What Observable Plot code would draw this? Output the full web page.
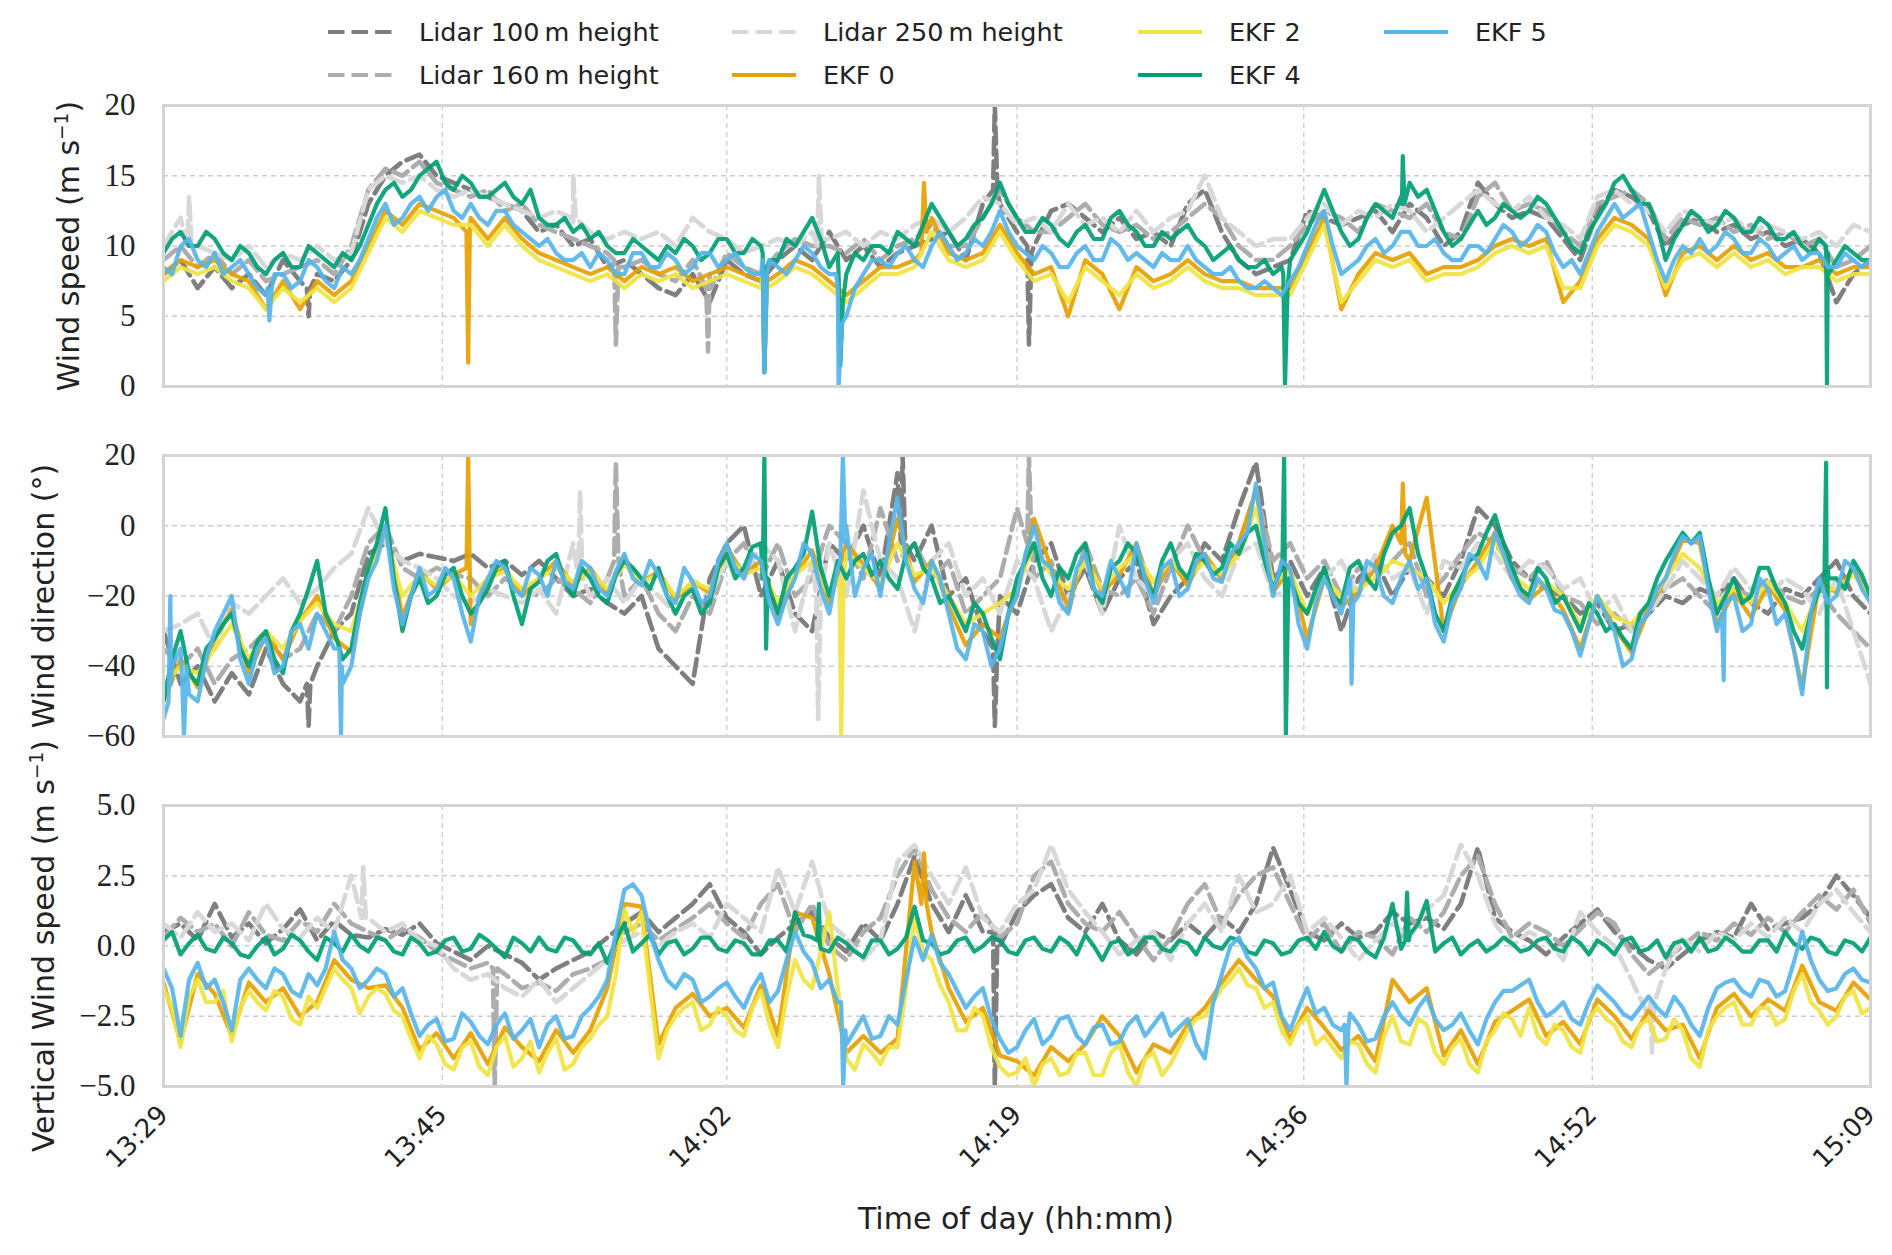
<!DOCTYPE html>
<html><head><meta charset="utf-8">
<script src="https://cdn.jsdelivr.net/npm/d3@7"></script>
<script src="https://cdn.jsdelivr.net/npm/@observablehq/plot@0.6"></script>
<style>
body{margin:0;background:#fff;}
#root{position:relative;width:1892px;height:1255px;overflow:hidden;font-family:"DejaVu Sans",sans-serif;color:#222;}
.panel{position:absolute;left:0;}
.leg{position:absolute;display:flex;align-items:center;height:40px;font-size:25.5px;white-space:nowrap;}
.leg span{margin-left:27px;}
.ylab{position:absolute;font-size:30px;white-space:nowrap;transform:translate(-50%,-50%) rotate(-90deg);}
.xlab{position:absolute;font-size:30px;white-space:nowrap;transform:translate(-50%,-50%);}
sup{font-size:0.62em;line-height:0;}
</style></head>
<body><div id="root"></div>
<script>
// ---------- shared axis data ----------
const timeMinutes = d3.range(0, 101);      // minutes after 13:29, one sample per minute
const timeHalfMinutes = d3.range(0.5, 100); // in-between samples (minute + 0.5)
const tickMinutes = [0, 16.33, 33, 50, 66.8, 83.7, 100];
const tickLabels = ["13:29", "13:45", "14:02", "14:19", "14:36", "14:52", "15:09"];
const seriesNames = ["Lidar 100\u2009m height", "Lidar 160\u2009m height", "Lidar 250\u2009m height", "EKF 0", "EKF 2", "EKF 4", "EKF 5"];
const speedTicks = [0, 5, 10, 15, 20];
const dirTicks = [-60, -40, -20, 0, 20];
const vertTicks = [-5, -2.5, 0, 2.5, 5];

// ---------- wind speed (m/s) ----------
const speedLidar100 = [8,9,7,8.5,7,8,6.5,9,7.5,8, 7.5,9,13,15,16,16.5,15,14.5,14,13.5, 13,12.5,11,11.5,10,10.5,8.5,9,8,7, 6.5,8,6,9,8,7.5,9,10,9,11, 9,10,8.5,9.5,10,10.5,11,9,13,13, 11,10,12.5,13,12,11,12,10.5,11,10, 13,14,11,9,8,8.5,9,12.5,12,11.5, 12,12.5,11,13,12,10,11,14.5,13,12, 12.5,12,10.5,9,12.5,14,13.5,12.5,10,11.5, 12,11,11.5,10.5,11,10,10.5,9.5,6,8, 9];
const speedLidar160 = [9,10,8.5,9.5,8,9,7.5,8,8.5,9, 8,10,14,15.5,15,16,14.5,14,13.5,14, 12.5,13,11.5,11,10.5,10,9.5,8.5,9,8, 7.5,9,8,9.5,8.5,8,9.5,10.5,10,10, 9.5,10.5,9,10,10.5,11.5,10,10,12,14, 12,11,11,12,13,11.5,11,11.5,10.5,11, 12,13,12,10,9,9,10,11.5,12.5,12, 11,13,12.5,12,13,11,10.5,13.5,14.5,12.5, 13,12.5,11,10,13,13.5,14,13,10.5,12, 11.5,12,11,11.5,10.5,11,10,10.5,8.5,9, 10];
const speedLidar250 = [10,12,10,9.5,9,10,8.5,9.5,9,10, 9,9.5,14,15,14.5,15,14,13.5,14,13.5, 13,12.5,12,12.5,11.5,11,10.5,11,10.5,11, 10,12,11,10.5,9.5,10,10.5,10,11,10.5, 11,10,11,10.5,11.5,12,11,12,13.5,13, 11.5,12,11,13,11.5,12,11,12.5,11,12, 12.5,15,12,11,10,10.5,10.5,12,13,11.5, 12.5,12,13,12.5,11,12,13,14,13,12.5, 13.5,12,11.5,10.5,13.5,14,13,12.5,11,12.5, 12,11.5,12,11,11.5,11,10.5,11,10,11.5, 11];
const speedEKF0 = [8,9,8.5,9,8,7.5,5.5,7.5,5.5,7.5, 6.5,7.5,10,12.5,11.5,13,12.5,12,12,10.5, 12,10.5,9.5,9,8.5,8,8.5,7.5,8.5,8, 8.5,7.5,8,8.5,8,7.5,8,9,8.5,7.5, 6.5,7.5,8.5,8.5,9,12,9.5,9,9.5,11.5, 9.5,8,8.5,5,9,8,5.5,8.5,7.5,8, 9,8,7.5,7.5,7,7,7,9.5,12,5.5, 8,9.5,9,9.5,8,8.5,8.5,9,10,10.5, 10,10.5,6,7.5,10.5,12,11.5,10.5,6.5,9.5, 10,9,10,9,9.5,8.5,8.5,9,8,8.5, 8.5];
const speedEKF2 = [7.5,8.5,8,8.5,7.5,7,5.5,7,6,7, 6,7,9.5,12,11,12.5,12,11.5,11.5,10, 11.5,10,9,8.5,8,7.5,8,7,8,7.5, 8,7,7.5,8,7.5,7,7.5,8.5,8,7, 6,7,8,8,8.5,11,9,8.5,9,11, 9,7.5,8,6,8.5,7.5,6.5,8,7,7.5, 8.5,7.5,7,7,6.5,6.5,6.5,9,11.5,6, 7.5,9,8.5,9,7.5,8,8,8.5,9.5,10, 9.5,10,7,7,10,11.5,11,10,7,9, 9.5,8.5,9.5,8.5,9,8,8.5,8.5,7.5,8, 8];
const speedEKF4 = [9.5,11,10,10.5,9,9.5,8,9.5,8.5,9.5, 8.5,9,11.5,14,13.5,15,16,14,14.5,13.5, 14.5,13,12,11.5,11,10.5,10,9.5,10,9, 9.5,10,9.5,10.5,9.5,10,9,10,12,8.5, 8,9,10,11,10,13,11,10.5,12,14.5, 12,11,11.5,10,11.5,10.5,12.5,11,10,10.5, 11.5,10,9.5,9,8.5,8,9,11,14,11, 10.5,13,12,14.5,14,11,10.5,12.5,12,12.5, 12.5,13,11,9.5,12,14.5,14,13,9,11.5, 12,11.5,12,11,11.5,10.5,10,10.5,9,9.5, 9];
const speedEKF4Half = [10.5,10,11,9.5,10,8.5,9,8.5,10,9, 9.5,10,13,14.5,14,15.5,14.5,15,13.5,14, 13.5,14,11.5,12,11.5,11,9.5,10.5,9.5,10, 10.5,9,10.5,9.5,10.5,9,10.5,11,10.5,9.5, 9.5,10,9.5,10.5,11.5,12,10,11.5,13,13, 11,12,10.5,11,10.5,12,11.5,10,11,11, 10.5,9,10,8.5,9,8.5,10,12.5,12.5,10, 12,12.5,13.5,13.5,12.5,10,11.5,11.5,13,12, 13.5,12,10,11,13,15,13,11.5,10.5,12.5, 11,12.5,11,12,10.5,11,9.5,9.5,10,9];
const speedEKF5 = [8.5,10,9,9.5,8.5,8,6.5,8,7.5,8.5, 7,8,10.5,13,12,13.5,13.5,12.5,13,11.5, 12.5,11,10,9.5,9,8.5,9,8,9.5,8.5, 9,8.5,9.5,9,8.5,8,8.5,9,9.5,8, 5,8,9,9.5,9,10,10,9.5,10,12.5, 10,9,9.5,8.5,10,9,10,9.5,8.5,9, 10,8.5,8,7.5,7,7,7.5,10,12.5,8, 9,10.5,10,11,10,9.5,9,10,10.5,11, 10.5,11,8.5,8,11,13,12.5,11,7.5,10, 10.5,10,10.5,9.5,10,9.5,9,9.5,8.5,9, 9];
const speedEKF5Half = [8,10.5,8.5,8,9,7,8,7,9,7.5, 8.5,9,12,11.5,13,12.5,14,12,12,12.5, 11.5,10.5,10.5,9,9.5,9.5,8,9.5,8.5,9.5, 8,9.5,8.5,9.5,8,9,8,10,8.5,7, 7,9,8.5,10,8.5,11,9,10.5,11,11, 9.5,10,8.5,9.5,9,10.5,9,9,9.5,9, 9,8,8.5,7,7.5,6.5,8.5,11.5,10,8.5, 10,9.5,11,10,10.5,9,10,9.5,11.5,10, 11.5,9.5,9,9.5,12,12,13,9,9,9.5, 9.5,11,9.5,10.5,9,10,9.5,8.5,9.5,8.5];
// brief excursions: [minute, value]
const speedLidar100Spikes = [[8.4,7],[8.5,5],[8.6,7],[48.6,14],[48.7,20],[48.85,14],[50.6,10],[50.7,3],[50.85,9.5]];
const speedLidar160Spikes = [[26.4,9],[26.5,3],[26.65,8.5],[31.8,7],[31.9,2.5],[32.05,7]];
const speedLidar250Spikes = [[1.4,10],[1.5,13.5],[1.65,10],[23.9,12],[24,15],[24.15,12],[38.3,10],[38.4,15],[38.55,10.5]];
const speedEKF0Spikes = [[17.75,11],[17.85,1.7],[17.95,11.5],[35.1,8.5],[35.2,1.2],[35.35,7.5],[44.4,9.5],[44.55,14.5],[44.7,11]];
const speedEKF2Spikes = [[35.1,8],[35.2,1.2],[35.35,7]];
const speedEKF4Spikes = [[35.1,9.5],[35.2,1],[35.35,8.5],[39.55,8],[39.65,1.5],[39.8,6],[65.6,8],[65.7,0],[65.85,7],[72.55,13],[72.6,16.4],[72.7,13],[97.4,10],[97.45,0],[97.55,8]];
const speedEKF5Spikes = [[6.1,7],[6.2,4.7],[6.35,7],[35.1,9],[35.2,1],[35.35,8],[39.4,8],[39.55,0],[39.75,4.5]];

// ---------- wind direction (deg) ----------
const dirLidar100 = [-30,-45,-40,-50,-42,-48,-35,-45,-50,-40, -30,-25,-8,-5,-10,-8,-9,-10,-8,-12, -10,-14,-10,-15,-20,-18,-22,-25,-20,-35, -40,-45,-15,-5,0,-20,-10,-25,-30,-5, -10,0,-15,15,-10,0,-20,-15,-30,-20, -25,-10,-5,-20,-12,-25,-15,-10,-28,-20, -15,-5,-10,5,18,-15,-10,-20,-12,-30, -15,-10,-20,-12,-15,-20,-10,5,0,-10, -15,-18,-20,-25,-22,-30,-28,-25,-20,-22, -18,-20,-15,-22,-25,-18,-20,-15,-10,-20, -25];
const dirLidar160 = [-35,-40,-35,-45,-38,-35,-30,-38,-35,-25, -30,-20,-5,0,-12,-15,-12,-14,-15,-20, -15,-18,-20,-15,-18,-22,-15,-20,-15,-25, -30,-20,-25,-10,-5,-15,-5,-20,-15,0, -5,-15,5,-10,-5,-15,-10,-25,-20,-15, 5,-15,-10,-25,-5,-18,-20,-15,-25,-12, 0,-10,-15,-5,10,-10,-5,-15,-10,-20, -12,-15,-10,-5,-20,-15,-8,-2,-5,-12, -15,-10,-20,-22,-28,-25,-30,-22,-18,-15, -20,-25,-18,-20,-15,-20,-22,-18,-25,-30, -35];
const dirLidar250 = [-30,-28,-25,-35,-22,-25,-20,-15,-22,-18, -12,-8,5,-5,-10,-12,-15,-20,-22,-18, -20,-22,-18,-25,-5,-20,-15,-22,-15,-20, -25,-15,-20,-10,-15,-5,-10,-30,-10,-5, -20,10,-10,-15,-30,-10,-5,-20,-15,-25, -10,-15,-30,-20,-10,-25,0,-15,-20,-10, -5,-15,-20,-8,-5,-20,-18,-25,-15,-10, -20,-8,-15,-12,-25,-10,-12,-5,-8,-15, -10,-12,-18,-15,-25,-20,-30,-25,-18,-10, -15,-20,-12,-18,-20,-15,-18,-25,-15,-30, -45];
const dirEKF0 = [-50,-38,-46,-32,-24,-42,-31,-38,-27,-20, -32,-36,-14,0,-26,-13,-18,-14,-28,-15, -12,-20,-15,-10,-17,-12,-19,-9,-16,-13, -21,-16,-19,-6,-14,-10,-26,-14,-7,-22, -5,-11,-18,2,-16,-10,-23,-34,-28,-32, -19,2,-12,-23,-8,-19,-14,-5,-20,-10, -17,-8,-15,-5,10,-19,-12,-32,-15,-23, -19,-12,0,-10,8,-30,-17,-10,-2,-15, -21,-17,-24,-35,-20,-29,-36,-24,-15,-4, -5,-28,-19,-26,-17,-24,-46,-16,-19,-12, -21];
const dirEKF2 = [-45,-40,-42,-35,-28,-38,-30,-35,-27,-22, -28,-30,-14,-2,-20,-14,-17,-14,-20,-15, -13,-18,-15,-12,-16,-13,-18,-11,-16,-14, -20,-16,-18,-8,-14,-12,-22,-14,-10,-20, -8,-12,-16,-5,-14,-12,-20,-28,-25,-22, -18,-5,-14,-18,-10,-18,-12,-8,-16,-10, -15,-10,-14,-8,5,-16,-13,-25,-15,-20, -18,-15,-10,-12,-15,-22,-16,-12,-4,-14, -18,-16,-20,-28,-20,-26,-28,-22,-15,-8, -12,-22,-18,-22,-16,-22,-30,-18,-18,-14, -20];
const dirEKF4 = [-50,-30,-45,-32,-25,-40,-30,-42,-25,-10, -30,-35,-12,5,-30,-15,-20,-12,-25,-18, -10,-28,-16,-8,-20,-15,-22,-10,-15,-12, -25,-18,-22,-8,-12,-5,-25,-12,4,-20, -15,-8,-10,-18,-5,-15,-20,-30,-25,-38, -15,-5,-20,-15,-5,-22,-10,-8,-20,-5, -15,-10,-12,-8,0,-18,-15,-25,-12,-22, -10,-18,-2,5,-15,-30,-15,-8,3,-12, -20,-15,-20,-30,-25,-28,-35,-22,-10,-2, -2,-25,-15,-20,-12,-22,-35,-18,-15,-10, -20];
const dirEKF4Half = [-38,-42,-35,-28,-35,-33,-38,-30,-18,-25, -38,-22,-5,-15,-20,-22,-14,-20,-22,-12, -20,-18,-10,-16,-12,-20,-14,-12,-18,-20, -20,-25,-12,-15,-6,-18,-15,-8,-12,-10, -10,-14,-15,-8,-12,-22,-25,-22,-32,-25, -10,-15,-12,-8,-18,-12,-5,-15,-10,-12, -8,-14,-5,-2,-10,-12,-22,-18,-20,-12, -15,-8,0,-8,-25,-20,-10,-2,-5,-18, -12,-22,-25,-22,-30,-32,-25,-15,-6,-5, -15,-20,-22,-12,-18,-30,-25,-12,-18,-14];
const dirEKF5 = [-55,-35,-50,-30,-20,-45,-32,-40,-28,-25, -35,-40,-15,0,-28,-12,-18,-15,-33,-15, -12,-20,-14,-10,-18,-12,-20,-8,-17,-14, -22,-16,-20,-5,-15,-10,-28,-15,-8,-25, 0,-12,-20,8,-18,-10,-25,-38,-30,-35, -20,0,-12,-25,-8,-20,-15,-5,-22,-10, -18,-8,-16,-5,12,-20,-12,-35,-15,-25, -20,-12,-22,-10,-15,-33,-18,-10,-2,-15, -22,-18,-25,-37,-20,-30,-38,-25,-15,-3, -3,-30,-20,-28,-18,-25,-48,-15,-20,-12, -22];
const dirEKF5Half = [-40,-48,-38,-25,-38,-35,-42,-30,-35,-30, -45,-25,-10,-18,-20,-20,-12,-25,-20,-10, -18,-12,-20,-16,-10,-18,-13,-15,-10,-20, -12,-22,-10,-12,-8,-22,-20,-5,-18,-12, -20,-8,-5,-10,-22,-15,-35,-28,-40,-25, -8,-10,-22,-12,-18,-10,-20,-15,-12,-20, -10,-15,-8,-2,-5,-10,-28,-22,-20,-15, -10,-20,-15,-18,-28,-22,-8,-15,-8,-20, -15,-24,-30,-28,-25,-40,-28,-18,-8,-5, -18,-22,-30,-15,-28,-35,-25,-22,-10,-18];
const dirLidar100Spikes = [[8.4,-45],[8.5,-57],[8.6,-45],[43.2,-5],[43.3,20],[43.45,-5],[48.6,-35],[48.7,-57],[48.85,-35]];
const dirLidar160Spikes = [[26.4,-10],[26.5,18],[26.65,-10],[50.6,-5],[50.7,20],[50.85,-5]];
const dirLidar250Spikes = [[24.3,-15],[24.4,10],[24.55,-15],[38.25,-20],[38.35,-55],[38.5,-20]];
const dirEKF0Spikes = [[17.75,-12],[17.85,20],[17.95,-16],[72.5,-5],[72.6,12],[72.75,-8]];
const dirEKF2Spikes = [[39.6,-15],[39.7,-60],[39.85,-15]];
const dirEKF4Spikes = [[35.1,-15],[35.2,20],[35.3,-35],[35.4,-15],[65.55,-10],[65.65,20],[65.75,-60],[65.9,-15],[97.3,-15],[97.4,18],[97.45,-46],[97.55,-15]];
const dirEKF5Spikes = [[0.3,-50],[0.4,-20],[0.45,-45],[1.1,-45],[1.2,-60],[1.35,-40],[10.3,-35],[10.4,-60],[10.45,-40],[39.65,-10],[39.8,20],[39.95,-5],[69.55,-20],[69.6,-45],[69.7,-22],[91.3,-25],[91.4,-44],[91.45,-25]];

// ---------- vertical wind speed (m/s) ----------
const vertLidar100 = [0.5,0.8,0.2,1.5,0.3,0.8,0.1,0.6,1.3,0.2, 0.9,0.4,0.3,0.6,0.4,0.8,0.1,-0.2,-0.5,0, -0.3,-0.6,-1.2,-0.8,-0.5,-0.2,0.3,0.8,1.2,0.5, 1,1.5,2.2,1,0.5,-0.3,0.3,0.8,1.2,0.3, -0.2,0.8,0.2,1.5,3.2,1.5,0.5,1.8,0.5,0, 1.2,1.8,2.2,1,0.5,1.5,0.2,-0.3,0.5,0.2, 0.8,0.3,1,0.5,1.5,3.5,2,0.5,0.2,0.8, 0.3,0.5,1.2,0.8,1,0.6,1.5,3.5,1,0.5, 0.2,-0.3,0.3,0.8,1.3,0.5,0,-0.5,-0.8,-0.3, 0.2,0.5,0.3,1.5,0.6,0.8,1,1.5,2.5,1.8, 1];
const vertLidar160 = [0.3,1,0.5,0.8,0,1.2,0.4,0.2,0.9,0.5, 1.5,0.8,0.5,0.2,0.6,0.3,-0.2,-0.5,-0.8,-0.6, -1,-1.5,-1.3,-1.6,-1,-0.8,-0.5,0.5,0.8,0.2, 0.6,1,1.5,0.8,0.3,1.5,2.2,0.5,1.5,0, -0.5,0.5,1,2.5,3.5,2,1,0.5,1.2,0.3, 0.8,2.5,3,1.5,0.8,0.5,1.2,0.3,-0.5,0.3, 1.5,2.2,0.8,1.8,2.5,2.8,1.5,0.2,0.8,-0.2, 0.5,0.3,-0.3,1,0.5,1.2,2.5,3.2,1.5,0.3, 0.8,0.5,0,0.6,1.2,0.8,-0.3,-1,-0.5,0, 0.5,0.2,0.8,0.4,1,0.5,1.2,1.8,1.3,2, 0.8];
const vertLidar250 = [0.8,0.3,1.2,0.5,0.8,0.2,1.5,0.6,0.3,1, 0.5,2.5,1,0.5,0.8,0.2,0,-0.8,-1.2,-1, -1.5,-1.8,-1.2,-2,-1.5,-1,-0.5,0.2,0.5,0, 0.5,0.8,0.3,1.5,1,0.5,2.8,1.2,3,0.8, 0.3,-0.5,0.2,3,3.6,2.5,1.5,2.8,1,0.5, 1.5,2,3.6,2,1.2,0.5,-0.3,0.2,0.5,-0.5, 0.8,1.5,0.5,2.5,1.2,1.5,2.5,0.5,1,0.3, -0.5,0.2,0.8,0.3,1.3,1.8,3.6,2.5,0.8,0, 0.5,0.2,-0.5,1.2,0.5,0,-1.2,-2.5,-0.8,0.3, -0.2,0.5,0.2,0.8,0.3,1,0.5,1.5,2,1.2, 0.5];
const vertEKF0 = [-1.3,-3.4,-1,-1.7,-3.2,-1.3,-2,-1.5,-2.5,-2, -0.5,-1.2,-1.5,-1.4,-2.2,-3.7,-3.1,-4,-3.1,-4.2, -2.9,-3.6,-4.1,-3,-3.8,-3,-1.5,1.5,1.4,-3.5, -2.2,-1.7,-2.5,-2.2,-2.9,-1.4,-3.2,1.2,1,-1, -3.8,-3.2,-3.8,-3.3,3,0.5,-1.5,-2.7,-2.2,-3.9, -4.1,-4.6,-3.6,-4.1,-3.5,-2.5,-3.2,-4.5,-3.5,-3.8, -2.8,-2.2,-1.3,-0.5,-1.2,-1.8,-3.3,-2.2,-2.9,-3.7, -3.2,-4.1,-1.2,-2,-1.5,-3.9,-3,-4.2,-2.7,-2.3, -1.9,-3.2,-2.7,-3.5,-1.9,-2.5,-3.3,-2.3,-3,-2.8, -4,-2.2,-1.7,-2.5,-1.9,-2.3,-0.7,-2,-2.3,-1.3, -1.9];
const vertEKF2 = [-1.5,-3.6,-1.2,-2,-3.4,-1.6,-2.3,-1.8,-2.8,-2.2, -0.8,-1.5,-1.8,-1.7,-2.5,-4,-3.5,-4.4,-3.4,-4.6, -3.2,-4,-4.5,-3.3,-4.2,-3.3,-2.5,1.3,1.2,-4, -2.5,-2,-2.8,-2.5,-3.2,-1.6,-3.6,-0.5,-1.5,1.2, -4,-3.5,-4.2,-3.6,1,-0.5,-2,-3,-2.5,-4.3, -4.5,-5,-4,-4.5,-3.8,-4.6,-3.5,-5,-3.8,-4.2, -3,-2.5,-1.5,-0.8,-1.5,-2,-3.5,-2.5,-3.2,-4, -3.5,-4.5,-2.5,-3.5,-2.8,-4.2,-3.3,-4.5,-3,-2.6, -2.2,-3.5,-3,-3.8,-2.2,-2.8,-3.6,-2.6,-3.3,-3, -4.3,-2.5,-2,-2.8,-2.2,-2.6,-1,-2.3,-2.5,-1.6, -2.2];
const vertEKF2Half = [-2.2,-1.8,-2,-1.6,-2.2,-2,-1.6,-2.6,-1.8,-1.5, -1.2,-2.4,-1.5,-2.3,-3.3,-3.2,-4.2,-3.6,-4.3,-3.6, -4.3,-3.4,-3.8,-4.4,-3.6,-2.8,-1,0.5,-1.5,-3, -2.2,-3,-2.2,-3,-2.2,-2.8,-1.8,-1.2,-0.2,-1.5, -4.4,-3.8,-3.6,-1.5,-0.2,-1.4,-3,-2.2,-3.6,-4.6, -4,-4.2,-4.6,-3.8,-4.6,-3.8,-4.5,-4,-4.6,-3.6, -2.6,-2,-1.2,-1.4,-2.2,-3,-2.8,-3.5,-3.6,-3.4, -4.2,-3.2,-3.4,-2.6,-3.8,-3.6,-4.2,-3.4,-2.4,-3.2, -3.2,-2.8,-3.6,-2.6,-2.6,-3.4,-2.8,-3.4,-2.6,-4, -3,-2.2,-2.8,-2.2,-2.8,-1.6,-2,-2.8,-1.8,-2.4];
const vertEKF4 = [0.2,-0.3,0.4,-0.2,0.1,-0.4,0.3,-0.1,0.2,-0.5, 0.1,0.4,-0.2,0.2,-0.3,0.1,-0.2,0.3,-0.1,0.2, -0.4,0.1,0.3,-0.2,0.2,-0.3,-0.6,0.8,0.1,-0.3, 0.2,-0.1,0.3,-0.2,0.1,-0.3,0.2,1.2,0.3,-0.2, 0.1,-0.4,0.2,-0.1,1.4,0.1,-0.2,0.3,0,0.2, -0.3,0.3,-0.2,0.1,0.4,-0.5,0.2,-0.1,0.3,-0.2, 0.1,0.3,-0.1,0.2,-0.3,0.1,-0.2,0.3,0.5,-0.2, 0.2,-0.4,1.5,0.4,1.6,0.1,-0.3,0.2,0,0.1, -0.1,0.3,-0.2,0.1,0.2,-0.3,0.3,-0.1,-0.4,0.2, 0.3,-0.1,0.1,-0.2,0.2,0.5,-0.1,0.2,-0.3,0.1, 0.3];
const vertEKF4Half = [0.5,0.1,-0.1,0.3,-0.3,0,-0.3,0.4,-0.2,0.3, -0.2,0,0.3,-0.2,0.3,-0.3,0.2,-0.2,0.4,-0.1, 0.3,-0.2,-0.1,0.3,-0.2,0.1,0.2,-0.2,0.4,0.1, -0.3,0.3,-0.1,0.2,-0.3,0.2,-0.2,0.4,-0.1,0.3, -0.2,0.2,-0.3,0.3,0.2,-0.3,0.2,-0.2,0.3,-0.2, 0.2,-0.1,0.3,-0.3,0,0.1,-0.3,0.3,-0.1,0.2, -0.3,0,0.3,-0.2,0.2,-0.3,0.2,-0.1,0,0.3, -0.2,0.3,-0.1,0.8,-0.2,0.3,0,-0.2,0.3,-0.2, 0.2,-0.1,0.3,-0.3,0,0.2,-0.2,0.2,0.1,-0.2, -0.2,0.3,-0.2,0.2,-0.2,0.1,0.3,-0.2,0.2,-0.2];
const vertEKF5 = [-0.8,-3.2,-0.6,-1.2,-3,-0.8,-1.5,-1,-1.8,-1.4, 0.5,-0.8,-1.2,-1,-1.5,-3.2,-2.6,-3.3,-2.7,-3.5, -2.4,-3,-3.6,-2.5,-3.2,-2.2,-1.2,2,1.8,-0.5, -1.5,-1.2,-1.8,-1.3,-2.2,-1,-1.6,0.5,-0.6,-1.2, -3.5,-2.5,-3.2,-2.8,0.3,0.4,-1,-2.2,-1.5,-3.3, -3.6,-2.6,-3.2,-2.5,-3.5,-2.8,-3.4,-2.5,-2.8,-3.2, -2.6,-4,-1,0.3,-0.8,-1.3,-3,-1.5,-2.2,-3, -2.8,-3.3,-2,-2.8,-1.8,-3,-2.4,-3.5,-2,-1.6, -1.2,-2.5,-2,-2.8,-1.4,-2,-2.6,-1.8,-2.5,-2.2, -3.2,-1.5,-1.2,-1.8,-1.3,-1.6,0.5,-1.2,-1.5,-0.8, -1.3];
const vertEKF5Half = [-1.5,-1.2,-1.5,-2,-1.2,-1.2,-0.8,-1.6,-1,-0.8, -0.5,-1.5,-0.8,-1.8,-2.4,-2.8,-3.4,-2.4,-3.2,-2.8, -3.3,-2.6,-2.8,-3.3,-2.5,-1.8,0.5,2.2,0.5,-1.2, -1,-2,-1.5,-1.8,-1.5,-2,-0.5,-0.2,-1.5,-2, -3,-3.3,-2.5,-1.2,-0.5,-0.6,-1.6,-1.8,-2.6,-3.8, -3,-3.5,-2.6,-3.2,-2.9,-3.5,-2.8,-3.2,-2.4,-2.9, -3.5,-2,0,-0.4,-1.5,-2.5,-2.2,-2.4,-2.8,-2.4, -3.4,-2.5,-2.5,-2.2,-2.6,-2.8,-3,-2.6,-1.6,-1.4, -2,-2.3,-2.6,-2,-1.7,-2.4,-2.2,-2.2,-1.8,-2.8, -2.2,-1.3,-1.6,-1.2,-1.8,-0.6,-0.5,-1.6,-1,-1.2];
const vertLidar100Spikes = [[48.6,0.5],[48.7,-5],[48.85,0.5]];
const vertLidar160Spikes = [[19.3,-0.8],[19.4,-5],[19.55,-0.8]];
const vertLidar250Spikes = [[11.6,1],[11.7,2.8],[11.85,1],[87.1,-2],[87.2,-3.8],[87.35,-2]];
const vertEKF0Spikes = [[44.4,1.5],[44.55,3.3],[44.7,1.5]];
const vertEKF2Spikes = [];
const vertEKF4Spikes = [[38.3,0.2],[38.4,1.5],[38.45,0.1],[72.75,0.2],[72.85,1.9],[72.95,0.2]];
const vertEKF5Spikes = [[39.7,-2],[39.82,-5],[39.95,-3],[69.2,-2.8],[69.3,-5],[69.4,-3]];

// ---------- styling (not data) ----------
const seriesColors = ["#7f7f7f", "#adadad", "#d8d8d8", "#E69F00", "#F0E442", "#009E73", "#56B4E9"];
const seriesDashed = [true, true, true, false, false, false, false];
const dashPattern = "16.5,7";

function buildSeries(values, spikes, halves) {
  const pts = values.map((v, i) => ({t: timeMinutes[i], v}));
  if (halves) halves.forEach((v, i) => pts.push({t: timeHalfMinutes[i], v}));
  for (const [t, v] of spikes) pts.push({t, v});
  pts.sort((a, b) => a.t - b.t);
  return pts;
}

const panels = [
  {domain: [0, 20], ticks: speedTicks, fmt: d3.format("d"), top: 95, height: 301, mb: 10, xaxis: false,
   values: [speedLidar100, speedLidar160, speedLidar250, speedEKF0, speedEKF2, speedEKF4, speedEKF5],
   halves: [null, null, null, null, null, speedEKF4Half, speedEKF5Half],
   spikes: [speedLidar100Spikes, speedLidar160Spikes, speedLidar250Spikes, speedEKF0Spikes, speedEKF2Spikes, speedEKF4Spikes, speedEKF5Spikes]},
  {domain: [-60, 20], ticks: dirTicks, fmt: d3.format("d"), top: 445, height: 301, mb: 10, xaxis: false,
   values: [dirLidar100, dirLidar160, dirLidar250, dirEKF0, dirEKF2, dirEKF4, dirEKF5],
   halves: [null, null, null, null, null, dirEKF4Half, dirEKF5Half],
   spikes: [dirLidar100Spikes, dirLidar160Spikes, dirLidar250Spikes, dirEKF0Spikes, dirEKF2Spikes, dirEKF4Spikes, dirEKF5Spikes]},
  {domain: [-5, 5], ticks: vertTicks, fmt: d3.format(".1f"), top: 795, height: 411, mb: 120, xaxis: true,
   values: [vertLidar100, vertLidar160, vertLidar250, vertEKF0, vertEKF2, vertEKF4, vertEKF5],
   halves: [null, null, null, null, vertEKF2Half, vertEKF4Half, vertEKF5Half],
   spikes: [vertLidar100Spikes, vertLidar160Spikes, vertLidar250Spikes, vertEKF0Spikes, vertEKF2Spikes, vertEKF4Spikes, vertEKF5Spikes]}
];

const root = document.getElementById("root");
const problems = [];
const gridStyle = {stroke: "#cccccc", strokeOpacity: 1, strokeWidth: 1.3, strokeDasharray: "5,4"};

panels.forEach((p, pi) => {
  p.values.forEach((v, k) => { if (v.length !== 101) problems.push(`panel ${pi} series ${k}: ${v.length}`); });
  p.halves.forEach((v, k) => { if (v && v.length !== 100) problems.push(`panel ${pi} half ${k}: ${v.length}`); });
  const marks = [Plot.gridY(p.ticks, gridStyle), Plot.gridX(tickMinutes, gridStyle)];
  p.values.forEach((vals, k) => {
    marks.push(Plot.line(buildSeries(vals, p.spikes[k], p.halves[k]), {
      x: "t", y: "v", stroke: seriesColors[k],
      strokeWidth: seriesDashed[k] ? 4.6 : 4.2,
      strokeDasharray: seriesDashed[k] ? dashPattern : null,
      strokeOpacity: seriesDashed[k] ? 1 : 0.92,
      strokeLinejoin: "round",
      clip: true
    }));
  });
  marks.push(Plot.frame({stroke: "#d4d4d4", strokeWidth: 3}));
  marks.push(Plot.axisY(p.ticks, {tickSize: 0, tickPadding: 28, tickFormat: p.fmt, label: null,
    fontSize: 31, fontFamily: "Liberation Serif", fill: "#222"}));
  if (p.xaxis) {
    marks.push(Plot.axisX(tickMinutes, {tickSize: 0, tickPadding: 24, tickRotate: -45, label: null,
      tickFormat: d => tickLabels[tickMinutes.indexOf(d)], fontSize: 26, fontFamily: "DejaVu Sans", fill: "#222"}));
  }
  const svg = Plot.plot({
    width: 1892, height: p.height,
    marginLeft: 163, marginRight: 22, marginTop: 10, marginBottom: p.mb,
    x: {domain: [0, 100], axis: p.xaxis ? undefined : null},
    y: {domain: p.domain},
    style: {background: "transparent", overflow: "visible"},
    marks
  });
  svg.classList.add("panel");
  svg.style.top = p.top + "px";
  root.appendChild(svg);
});

// legend (column-major, 4 columns, 2 rows)
const legendLeft = [328, 732, 1138, 1384];
const legendTop = [12, 55];
seriesNames.forEach((name, k) => {
  const div = document.createElement("div");
  div.className = "leg";
  div.style.left = legendLeft[Math.floor(k / 2)] + "px";
  div.style.top = legendTop[k % 2] + "px";
  const dash = seriesDashed[k] ? `stroke-dasharray="${dashPattern}"` : "";
  div.innerHTML = `<svg width="64" height="40"><line x1="0" x2="64" y1="20" y2="20" stroke="${seriesColors[k]}" stroke-width="${seriesDashed[k] ? 4.2 : 3.8}" ${dash}/></svg><span>${name}</span>`;
  root.appendChild(div);
});

// axis titles
const titles = [
  {cls: "ylab", x: 68, y: 245.5, html: "Wind speed (m s<sup>\u22121</sup>)"},
  {cls: "ylab", x: 43, y: 595.5, html: "Wind direction (\u00b0)"},
  {cls: "ylab", x: 43, y: 945.5, html: "Vertical Wind speed (m s<sup>\u22121</sup>)"},
  {cls: "xlab", x: 1016, y: 1218, html: "Time of day (hh:mm)"}
];
titles.forEach(t => {
  const d = document.createElement("div");
  d.className = t.cls;
  d.style.left = t.x + "px";
  d.style.top = t.y + "px";
  d.innerHTML = t.html;
  root.appendChild(d);
});

if (problems.length) {
  const d = document.createElement("div");
  d.style.cssText = "position:absolute;left:400px;top:600px;color:red;font-size:30px;background:#fff";
  d.textContent = problems.join("; ");
  root.appendChild(d);
}
</script>
</body></html>
